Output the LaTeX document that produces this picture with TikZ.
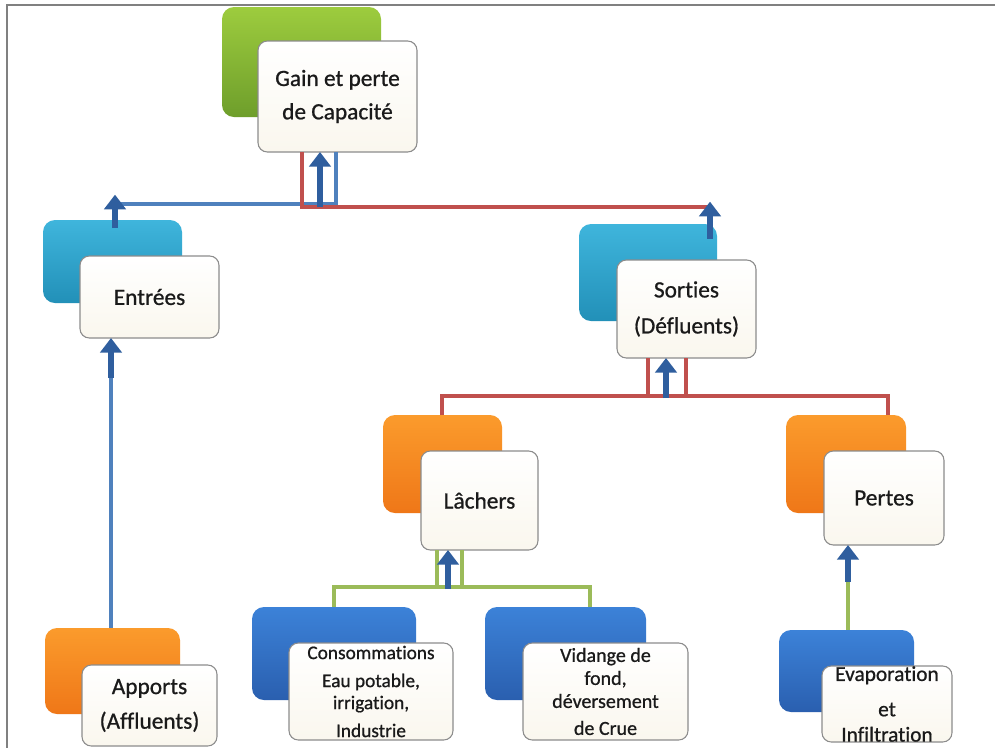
\documentclass[tikz,border=0pt]{standalone}
\usepackage{fontspec}
\setmainfont{Carlito}[Ligatures=NoCommon, FakeBold=0.8]
\usetikzlibrary{arrows.meta}
\definecolor{gTop}{HTML}{9DCC3E}
\definecolor{gBot}{HTML}{6E9E2B}
\definecolor{cTop}{HTML}{3FB5DC}
\definecolor{cBot}{HTML}{2290B8}
\definecolor{oTop}{HTML}{FB9B2C}
\definecolor{oBot}{HTML}{EF7718}
\definecolor{bTop}{HTML}{3C82D8}
\definecolor{bBot}{HTML}{2A5FAF}
\definecolor{redc}{HTML}{C0504D}
\definecolor{bluec}{HTML}{4F81BD}
\definecolor{greenc}{HTML}{9BBB59}
\definecolor{arrowc}{HTML}{2F5E9E}
\definecolor{framec}{HTML}{8C8C8C}
\definecolor{creamc}{HTML}{FAF7EE}
\definecolor{textc}{HTML}{1A1A1A}
\definecolor{borderc}{HTML}{808080}
\begin{document}
\begin{tikzpicture}[x=0.75pt,y=-0.75pt,
  box/.style n args={4}{at={({(#1+#3)/2},{(#2+#4)/2})},
    minimum width={(#3-#1)*0.75pt}, minimum height={(#4-#2)*0.75pt}},
  backbox/.style={rectangle, rounded corners=9pt, inner sep=0pt, outer sep=0pt},
  greenbox/.style={backbox, top color=gTop, bottom color=gBot},
  cyanbox/.style={backbox, top color=cTop, bottom color=cBot},
  orangebox/.style={backbox, top color=oTop, bottom color=oBot},
  bluebox/.style={backbox, top color=bTop, bottom color=bBot},
  frontbox/.style={rectangle, rounded corners=7pt, draw=framec, line width=0.8pt,
    top color=white, bottom color=creamc, inner sep=0pt, outer sep=0pt,
    align=center, text=textc},
  bigtext/.style={font=\fontsize{17.5}{25}\selectfont},
  redl/.style={draw=redc, line width=2.4pt},
  bluel/.style={draw=bluec, line width=2.4pt},
  greenl/.style={draw=greenc, line width=2.4pt},
  barrow/.style={draw=arrowc, line width=5pt, -{Triangle[length=11pt,width=16pt]}},
  framel/.style={draw=borderc, line width=1.2pt}
]
\useasboundingbox (0,0) rectangle (995,747);
\clip (0,0) rectangle (995,747);
\fill[white] (0,0) rectangle (995,747);
\draw[framel] (7,760) -- (7,5) -- (995,5);

% back boxes
\node[greenbox, box={222}{7}{381}{117}] (topb) {};
\node[cyanbox, box={43}{220}{182}{303}] (entb) {};
\node[cyanbox, box={579}{224}{717}{321}] (sortb) {};
\node[orangebox, box={383}{415}{502}{513}] (lachb) {};
\node[orangebox, box={786}{415}{906}{513}] (pertb) {};
\node[bluebox, box={252}{607}{416}{700}] (consb) {};
\node[bluebox, box={485}{607}{646}{700}] (vidb) {};
\node[bluebox, box={779}{630}{914}{712}] (evapb) {};
\node[orangebox, box={45}{628}{180}{714}] (appb) {};

% front boxes
\node[frontbox, bigtext, box={258}{41}{417}{152}] (topf) {Gain et perte\\de Capacité};
\node[frontbox, bigtext, box={80}{256}{219}{338}] (entf) {Entrées};
\node[frontbox, font=\fontsize{17.5}{27}\selectfont, box={617}{260}{756}{358}] (sortf) {Sorties\\(Défluents)};
\node[frontbox, bigtext, box={421}{451}{538}{550}] (lachf) {Lâchers};
\node[frontbox, bigtext, box={824}{451}{944}{545}] (pertf) {Pertes};
\node[frontbox, font=\fontsize{14.5}{16.5}\selectfont, box={289}{643}{453}{740}] (consf)
  {Consommations\\[4.5pt]Eau potable,\\irrigation,\\[4.5pt]Industrie};
\node[frontbox, font=\fontsize{15}{17.25}\selectfont, box={523}{643}{688}{740}] (vidf)
  {Vidange de\\fond,\\déversement\\[3pt]de Crue};
\node[frontbox, font=\fontsize{16}{19}\selectfont, box={822}{666}{952}{742}] (evapf)
  {Evaporation\\[7.5pt]et\\Infiltration};
\node[frontbox, font=\fontsize{17.5}{26}\selectfont, box={82}{665}{217}{746}] (appf)
  {Apports\\(Affluents)};

% junction coordinates
\coordinate (rA) at (302,207);
\coordinate (rB) at (710,207);
\coordinate (bA) at (336,204);
\coordinate (bB) at (115,204);
\coordinate (aT) at (320,207);
\coordinate (eA) at (111,378);
\coordinate (sL) at (648,396);
\coordinate (sR) at (686,396);
\coordinate (sM) at (666,398);
\coordinate (lA) at (442,396);
\coordinate (pA) at (888,396);
\coordinate (gL) at (437,587);
\coordinate (gR) at (462,587);
\coordinate (gM) at (448,589);
\coordinate (cA) at (334,587);
\coordinate (vA) at (590,587);
\coordinate (pB) at (848,582);

% connector lines
\draw[bluel] (topf.south -| bA) -- (bA) -- (bB);
\draw[redl] (topf.south -| rA) -- (rA) -- (rB);
\draw[bluel] (appb.north -| eA) -- (eA);
\draw[redl] (sortf.south -| sL) -- (sL);
\draw[redl] (sortf.south -| sR) -- (sR);
\draw[redl] (lachb.north -| lA) -- (lA) -- (pA) -- (pertb.north -| pA);
\draw[greenl] (lachf.south -| gL) -- (gL);
\draw[greenl] (lachf.south -| gR) -- (gR);
\draw[greenl] (consb.north -| cA) -- (cA) -- (vA) -- (vidb.north -| vA);
\draw[greenl] (evapb.north -| pB) -- (pB);

% arrows
\draw[barrow] (aT) -- (topf.south -| aT);
\draw[barrow] ([yshift=-6pt]entb.north -| bB) -- ([yshift=7pt]bB);
\draw[barrow] ([yshift=-11pt]sortb.north -| rB) -- ([yshift=4pt]rB);
\draw[barrow] (eA) -- (entf.south -| eA);
\draw[barrow] (sM) -- (sortf.south -| sM);
\draw[barrow] (gM) -- (lachf.south -| gM);
\draw[barrow] (pB) -- (pertf.south -| pB);
\end{tikzpicture}
\end{document}
